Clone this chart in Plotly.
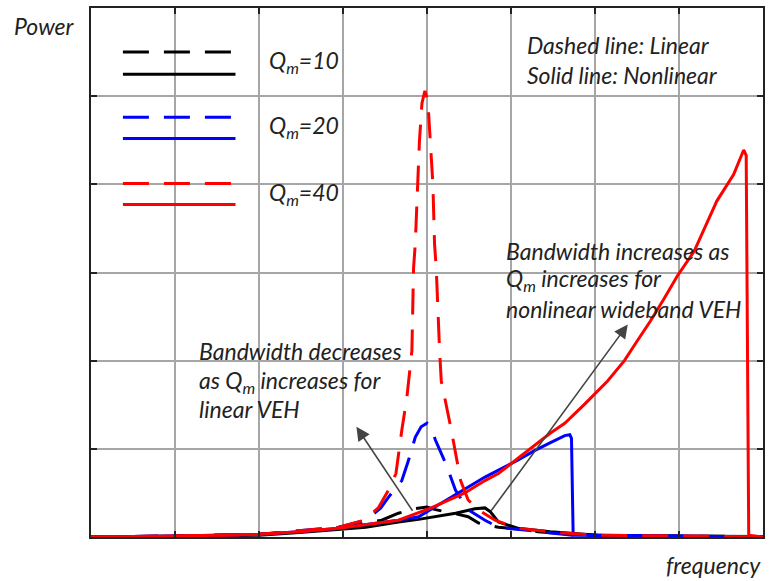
import plotly.graph_objects as go

# ---- data (frequency in grid units 0..8, power in grid units 0..6) ----
lin10_f = [0, 1.0, 2.0, 2.48, 2.95, 3.25, 3.46, 3.66, 3.85, 4.0, 4.10, 4.31, 4.49, 4.61, 4.85, 5.08, 5.32, 5.73, 6.03, 6.98, 8.0]
lin10_p = [0, 0.01, 0.03, 0.06, 0.11, 0.16, 0.19, 0.27, 0.32, 0.34, 0.31, 0.27, 0.23, 0.16, 0.11, 0.09, 0.06, 0.03, 0.02, 0.01, 0.005]

non10_f = [0, 1.0, 2.0, 2.48, 2.95, 3.27, 3.66, 3.90, 4.34, 4.57, 4.69, 4.75, 4.85, 5.08, 5.47, 5.71, 6.03, 6.62, 8.0]
non10_p = [0, 0.01, 0.02, 0.05, 0.09, 0.11, 0.17, 0.20, 0.27, 0.32, 0.33, 0.29, 0.17, 0.10, 0.06, 0.045, 0.02, 0.01, 0.005]

lin20_f = [0, 1.0, 2.0, 2.48, 2.95, 3.27, 3.45, 3.54, 3.70, 3.78, 3.86, 3.93, 4.0, 4.05, 4.10, 4.22, 4.34, 4.49, 4.69, 4.85, 5.32, 5.73, 6.62, 8.0]
lin20_p = [0, 0.01, 0.03, 0.07, 0.11, 0.19, 0.33, 0.45, 0.64, 0.87, 1.13, 1.25, 1.29, 1.24, 1.10, 0.84, 0.53, 0.31, 0.19, 0.11, 0.06, 0.02, 0.01, 0.0]

non20_f = [0, 1.0, 2.0, 2.48, 2.95, 3.27, 3.66, 3.90, 4.29, 4.69, 5.08, 5.28, 5.47, 5.64, 5.70, 5.72, 5.74, 6.0, 7.0, 7.8, 8.0]
non20_p = [0, 0.01, 0.03, 0.06, 0.10, 0.14, 0.19, 0.23, 0.45, 0.68, 0.87, 0.98, 1.07, 1.15, 1.16, 1.12, 0.02, 0.02, 0.01, 0.0, 0.0]

lin40_f = [0, 1.0, 2.0, 2.48, 2.95, 3.25, 3.42, 3.54, 3.63, 3.70, 3.76, 3.82, 3.84, 3.86, 3.89, 3.91, 3.94, 3.975, 4.01, 4.04, 4.07, 4.09, 4.11, 4.15, 4.17, 4.29, 4.40, 4.49, 4.61, 4.81, 5.08, 5.56, 6.03, 7.2, 8.0]
lin40_p = [0, 0.01, 0.03, 0.07, 0.11, 0.19, 0.33, 0.53, 0.72, 1.21, 1.58, 2.11, 3.05, 3.32, 4.0, 4.49, 4.92, 5.06, 4.95, 4.49, 4.0, 3.32, 3.05, 2.11, 1.77, 1.21, 0.64, 0.42, 0.31, 0.19, 0.10, 0.05, 0.02, 0.01, 0.0]

non40_f = [0, 1.0, 2.0, 2.48, 2.95, 3.27, 3.66, 4.05, 4.45, 4.69, 4.85, 5.08, 5.47, 5.64, 5.88, 6.15, 6.35, 6.50, 6.66, 6.82, 6.98, 7.18, 7.30, 7.45, 7.65, 7.74, 7.77, 7.80, 7.83, 8.0]
non40_p = [0, 0.01, 0.03, 0.06, 0.10, 0.14, 0.19, 0.33, 0.50, 0.64, 0.72, 0.89, 1.18, 1.29, 1.51, 1.77, 2.00, 2.22, 2.45, 2.70, 2.96, 3.24, 3.50, 3.81, 4.11, 4.33, 4.39, 4.33, 0.02, 0.0]

legend_labels = ["Q<sub>m</sub>=10", "Q<sub>m</sub>=20", "Q<sub>m</sub>=40"]
legend_colors = ["#000000", "#0000ff", "#ff0000"]

DASH = "26px,15px"
W = 3

fig = go.Figure()
series = [
    (lin10_f, lin10_p, "#000000", DASH),
    (non10_f, non10_p, "#000000", "solid"),
    (lin20_f, lin20_p, "#0000ff", DASH),
    (non20_f, non20_p, "#0000ff", "solid"),
    (lin40_f, lin40_p, "#ff0000", DASH),
    (non40_f, non40_p, "#ff0000", "solid"),
]
for f, p, c, d in series:
    fig.add_trace(go.Scatter(x=f, y=p, mode="lines", line=dict(color=c, width=W, dash=d),
                             showlegend=False, hoverinfo="skip"))

FONT = dict(family="Lato", size=23, color="#222222", style="italic")

# legend drawn manually
leg_y = [(5.50, 5.25), (4.76, 4.52), (4.01, 3.77)]
leg_text_y = [5.39, 4.66, 3.90]
for (yd, ys), ty, lab, c in zip(leg_y, leg_text_y, legend_labels, legend_colors):
    fig.add_shape(type="line", x0=0.38, x1=1.72, y0=yd, y1=yd, xref="x", yref="y",
                  line=dict(color=c, width=W, dash=DASH))
    fig.add_shape(type="line", x0=0.38, x1=1.72, y0=ys, y1=ys, xref="x", yref="y",
                  line=dict(color=c, width=W))
    fig.add_annotation(x=2.10, y=ty, xref="x", yref="y", text=lab, showarrow=False,
                       xanchor="left", yanchor="middle", font=FONT)

def text_line(x, y, t):
    fig.add_annotation(x=x, y=y, xref="x", yref="y", text=t, showarrow=False,
                       xanchor="left", yanchor="middle", font=FONT)

text_line(5.17, 5.58, "Dashed line: Linear")
text_line(5.17, 5.24, "Solid line: Nonlinear")

text_line(1.256, 2.11, "Bandwidth decreases")
text_line(1.256, 1.76, "as Q<sub>m</sub> increases for")
text_line(1.256, 1.45, "linear VEH")

text_line(4.92, 3.24, "Bandwidth increases as")
text_line(4.92, 2.92, "Q<sub>m</sub> increases for")
text_line(4.92, 2.59, "nonlinear wideband VEH")

# arrows
for (hx, hy, tx, ty) in [(3.16, 1.25, 3.84, 0.28), (6.39, 2.41, 4.75, 0.28)]:
    fig.add_annotation(x=hx, y=hy, ax=tx, ay=ty, xref="x", yref="y", axref="x", ayref="y",
                       text="", showarrow=True, arrowhead=2, arrowsize=1.7, arrowwidth=1.6,
                       arrowcolor="#444444")

fig.add_annotation(x=-0.117, y=0.966, xref="paper", yref="paper", text="Power", showarrow=False,
                   xanchor="left", yanchor="middle", font=FONT)
fig.add_annotation(x=1.0, y=-0.053, xref="paper", yref="paper", text="frequency", showarrow=False,
                   xanchor="right", yanchor="middle", font=FONT)

axis_common = dict(showgrid=True, gridcolor="#a6a6a6", gridwidth=1.5, zeroline=False,
                   showline=True, linecolor="#222222", linewidth=1.5, mirror="ticks",
                   ticks="inside", ticklen=6, tickcolor="#222222", tickwidth=1.5,
                   showticklabels=False, dtick=1, fixedrange=True)
fig.update_xaxes(range=[0, 8], **axis_common)
fig.update_yaxes(range=[0, 6], **axis_common)

fig.update_layout(width=771, height=581, margin=dict(l=91, r=6, t=6, b=44),
                  plot_bgcolor="white", paper_bgcolor="white")

fig.write_html("out.html", config={"displayModeBar": False},
               post_script="document.body.style.margin='0';document.body.style.overflow='hidden';")
